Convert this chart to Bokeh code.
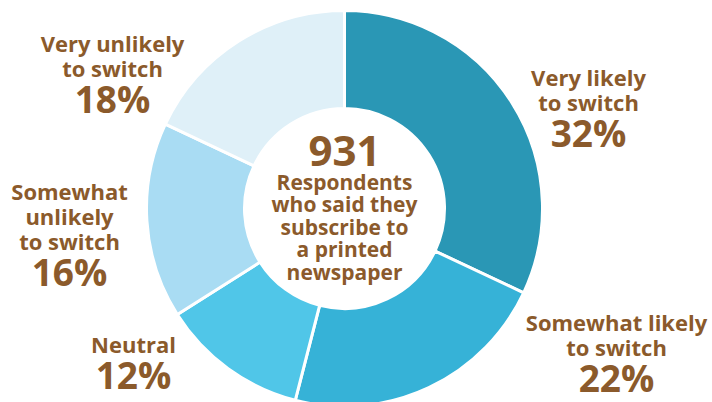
import math
from bokeh.plotting import figure
from bokeh.models import Range1d, ColumnDataSource
from bokeh.core.properties import value
from bokeh.embed import file_html
from bokeh.resources import INLINE

# ---- data ----
categories = ["Very likely\nto switch", "Somewhat likely\nto switch", "Neutral",
              "Somewhat\nunlikely\nto switch", "Very unlikely\nto switch"]
shares = [32, 22, 12, 16, 18]
center_number = "931"
center_text = "Respondents\nwho said they\nsubscribe to\na printed\nnewspaper"

# ---- styles / layout ----
colors = ["#2a97b5", "#36b2d7", "#50c6e8", "#a9dcf3", "#dff0f8"]
brown = "#8b5a2b"
W, H = 712, 402
cx, cy_top = 344, 208          # centre in pixels from the top
r_out, r_in = 198, 100
# label anchors: (x centre, y of first line from top)
label_pos = [(588, 76), (616, 321), (133, 343), (69, 190), (112, 42)]
line_step = 25
pct_gap = 31

font = value("Open Sans")

p = figure(width=W, height=H, x_range=Range1d(0, W), y_range=Range1d(0, H),
           output_backend="svg", toolbar_location=None, min_border=0)
p.axis.visible = False
p.grid.visible = False
p.outline_line_color = None
p.background_fill_color = "white"
p.border_fill_color = "white"

def Y(y_from_top):
    return H - y_from_top

# wedges, clockwise from the top
total = sum(shares)
starts, ends = [], []
cum = 0
for s in shares:
    a0 = math.pi / 2 - 2 * math.pi * cum / total
    cum += s
    a1 = math.pi / 2 - 2 * math.pi * cum / total
    starts.append(a1)
    ends.append(a0)

src = ColumnDataSource(dict(x=[cx] * len(shares), y=[Y(cy_top)] * len(shares),
                            start=starts, end=ends, color=colors))
p.annular_wedge(x="x", y="y", inner_radius=r_in, outer_radius=r_out,
                start_angle="start", end_angle="end", fill_color="color",
                line_color="white", line_width=3, source=src)

# labels
lx, ly, lt = [], [], []
px, py, pt = [], [], []
for cat, s, (x0, y0) in zip(categories, shares, label_pos):
    lines = cat.split("\n")
    for i, ln in enumerate(lines):
        lx.append(x0); ly.append(Y(y0 + i * line_step)); lt.append(ln)
    px.append(x0); py.append(Y(y0 + (len(lines) - 1) * line_step + pct_gap)); pt.append(f"{s}%")

p.text(x=lx, y=ly, text=lt, text_font=font, text_font_style="bold",
       text_font_size="22px", text_color=brown, text_align="center",
       text_baseline="middle")
p.text(x=px, y=py, text=pt, text_font=font, text_font_style="bold",
       text_font_size="37px", text_color=brown, text_align="center",
       text_baseline="middle")

# centre text
p.text(x=[cx], y=[Y(150)], text=[center_number], text_font=font,
       text_font_style="bold", text_font_size="42px", text_color=brown,
       text_align="center", text_baseline="middle")
cl = center_text.split("\n")
p.text(x=[cx] * len(cl), y=[Y(181 + i * 22.5) for i in range(len(cl))], text=cl,
       text_font=font, text_font_style="bold", text_font_size="21px",
       text_color=brown, text_align="center", text_baseline="middle")

open("out.html", "w").write(file_html(p, INLINE))
